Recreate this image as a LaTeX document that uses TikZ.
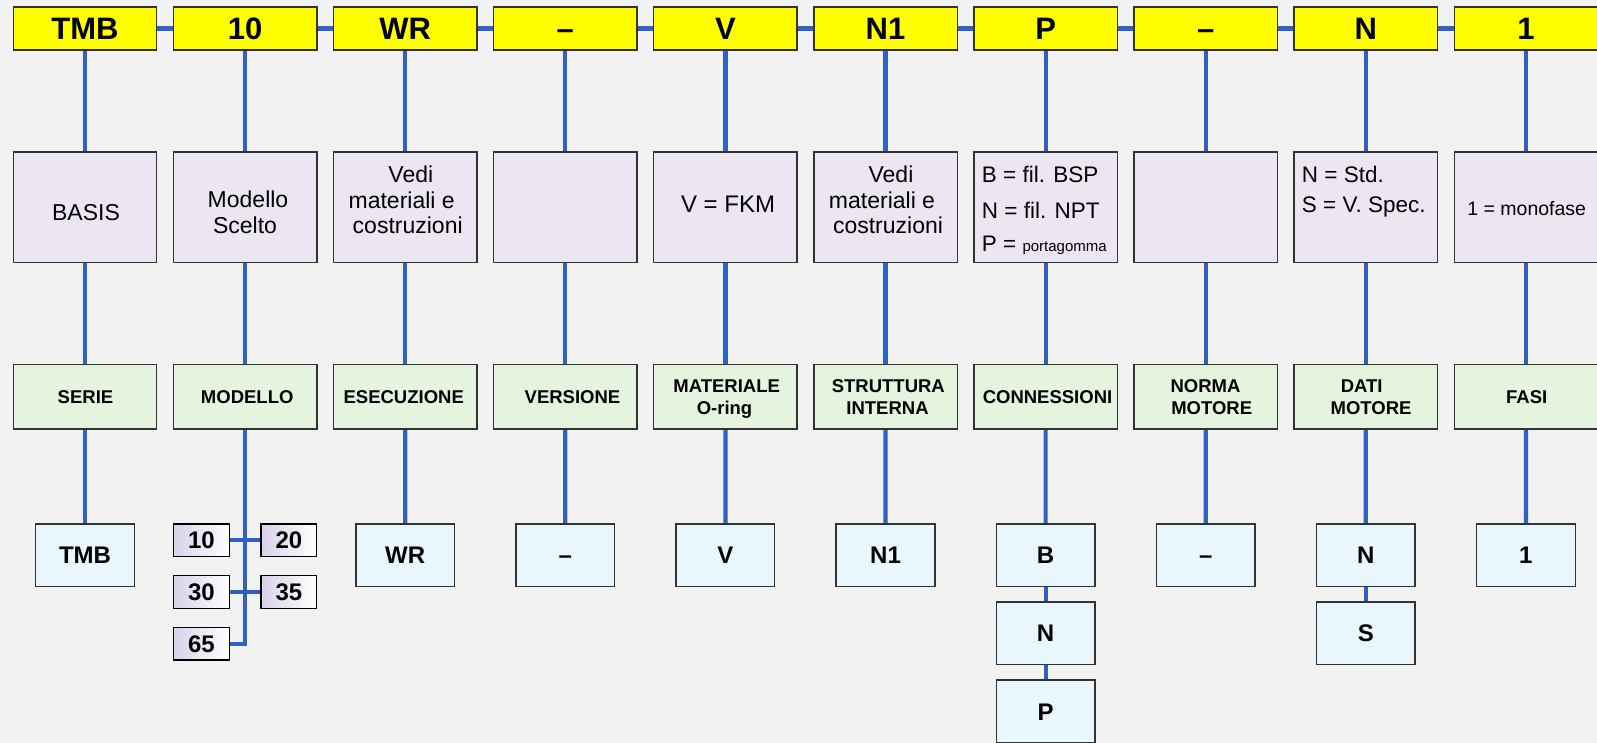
\documentclass[tikz,border=0pt]{standalone}
\usepackage{fontspec}
\setmainfont{Liberation Sans}
\usetikzlibrary{backgrounds}
\definecolor{bgc}{HTML}{F2F2F2}
\definecolor{linkblue}{HTML}{3060C4}
\definecolor{topyel}{HTML}{FFFF00}
\definecolor{midlav}{HTML}{ECE6F2}
\definecolor{labgreen}{HTML}{E4F4DE}
\definecolor{botblue}{HTML}{EAF6FD}
\definecolor{smlav}{HTML}{D8D2EA}
\definecolor{edgec}{HTML}{333333}
\begin{document}
\begin{tikzpicture}[x=1pt,y=-1pt,
 box/.style={draw=edgec, line width=1.4pt, inner sep=0pt, minimum width=143.4pt},
 topbox/.style={box, fill=topyel, minimum height=43pt, text height=22.2pt, text depth=0pt, font=\fontsize{31}{36}\selectfont\bfseries},
 midbox/.style={box, fill=midlav, minimum height=110.7pt},
 labbox/.style={box, fill=labgreen, minimum height=64.3pt},
 botbox/.style={draw=edgec, line width=1.4pt, inner sep=0pt, fill=botblue, minimum width=98.7pt, minimum height=62.7pt, text height=17.2pt, text depth=0pt, font=\fontsize{24}{28}\selectfont\bfseries},
 smbox/.style={draw=black, line width=1.4pt, inner sep=0pt, left color=smlav, right color=white, minimum width=55.6pt, minimum height=32.7pt, text height=17.2pt, text depth=0pt, font=\fontsize{24}{28}\selectfont\bfseries},
 link/.style={draw=linkblue, line width=4.2pt},
 midtxt/.style={inner sep=0pt, anchor=base, font=\fontsize{23}{27}\selectfont},
 midltxt/.style={inner sep=0pt, anchor=base west, font=\fontsize{22.5}{27}\selectfont},
 labtxt/.style={inner sep=0pt, anchor=base, font=\fontsize{18.5}{22}\selectfont\bfseries},
]
\useasboundingbox (0,0) rectangle (1597,743);
\begin{scope}[on background layer]
\fill[bgc] (0,0) rectangle (1597,743);
\end{scope}

% top, middle and label rows
\foreach \t [count=\i from 0] in {TMB,10,WR,–,V,N1,P,–,N,1} {
  \node[topbox] (top\i) at (85+160.1*\i, 28.5) {\t};
  \node[midbox] (mid\i) at (85+160.1*\i, 207.3) {};
  \node[labbox] (lab\i) at (85+160.1*\i, 396.8) {};
}

% middle texts
\node[midtxt] (m0) at (86,221) {BASIS};
\node[midtxt] (m1a) at (248,207.2) {Modello};
\node[midtxt] (m1b) at (245,233.9) {Scelto};
\node[midtxt] (m2a) at (410.8,182.2) {Vedi};
\node[midtxt] (m2b) at (401.7,209) {materiali e};
\node[midtxt] (m2c) at (407.7,233.5) {costruzioni};
\node[midtxt, font=\fontsize{24}{28}\selectfont] (m4) at (728,212.4) {V = FKM};
\node[midtxt] (m5a) at (891,182.2) {Vedi};
\node[midtxt] (m5b) at (882,209) {materiali e};
\node[midtxt] (m5c) at (888,233.5) {costruzioni};
\node[midltxt] (m6a) at (981.7,182.75) {B = fil. BSP};
\node[midltxt] (m6b) at (981.7,218.75) {N = fil. NPT};
\node[midltxt] (m6c) at (981.7,251.35) {P = {\fontsize{15}{18}\selectfont portagomma}};
\node[midltxt] (m8a) at (1301.7,183) {N = Std.};
\node[midltxt] (m8b) at (1301.7,213) {S = V. Spec.};
\node[midtxt, font=\fontsize{19.5}{23}\selectfont] (m9) at (1526.7,215.3) {1 = monofase};

% label texts
\node[labtxt] (l0) at (85.5,403.1) {SERIE};
\node[labtxt] (l1) at (247.2,403.1) {MODELLO};
\node[labtxt] (l2) at (403.7,403.1) {ESECUZIONE};
\node[labtxt] (l3) at (572.5,403.1) {VERSIONE};
\node[labtxt] (l4a) at (726.7,392.3) {MATERIALE};
\node[labtxt] (l4b) at (724.5,414.9) {O-ring};
\node[labtxt] (l5a) at (888.3,392.3) {STRUTTURA};
\node[labtxt] (l5b) at (887.5,414.9) {INTERNA};
\node[labtxt] (l6) at (1047.5,403.1) {CONNESSIONI};
\node[labtxt] (l7a) at (1205.5,392.3) {NORMA};
\node[labtxt] (l7b) at (1211.7,414.9) {MOTORE};
\node[labtxt] (l8a) at (1361.7,392.3) {DATI};
\node[labtxt] (l8b) at (1371,414.9) {MOTORE};
\node[labtxt] (l9) at (1526.7,403.1) {FASI};

% bottom row
\node[botbox] (bot0) at (85,555.3) {TMB};
\node[botbox] (bot2) at (405.2,555.3) {WR};
\node[botbox] (bot3) at (565.3,555.3) {–};
\node[botbox] (bot4) at (725.4,555.3) {V};
\node[botbox] (bot5) at (885.5,555.3) {N1};
\node[botbox] (bot6) at (1045.6,555.3) {B};
\node[botbox] (bot6n) at (1045.6,633.3) {N};
\node[botbox] (bot6p) at (1045.6,711.5) {P};
\node[botbox] (bot7) at (1205.7,555.3) {–};
\node[botbox] (bot8) at (1365.8,555.3) {N};
\node[botbox] (bot8s) at (1365.8,633.3) {S};
\node[botbox] (bot9) at (1525.9,555.3) {1};

% model options
\node[smbox] (s10) at (201.5,540.3) {10};
\node[smbox] (s20) at (288.9,540.3) {20};
\node[smbox] (s30) at (201.5,592) {30};
\node[smbox] (s35) at (288.9,592) {35};
\node[smbox] (s65) at (201.5,643.7) {65};
\coordinate (mcorner) at (245.1,643.7);

\begin{scope}[on background layer]
\foreach \i/\j in {0/1,1/2,2/3,3/4,4/5,5/6,6/7,7/8,8/9}
  \draw[link] (top\i) -- (top\j);
\foreach \i in {0,...,9} {
  \draw[link] (top\i) -- (mid\i);
  \draw[link] (mid\i) -- (lab\i);
}
\foreach \i in {0,2,3,4,5,6,7,8,9}
  \draw[link] (lab\i) -- (bot\i);
\draw[link] (bot6) -- (bot6n);
\draw[link] (bot6n) -- (bot6p);
\draw[link] (bot8) -- (bot8s);
\draw[link] (lab1.south) -- (mcorner) -- (s65.east);
\draw[link] (s10) -- (s20);
\draw[link] (s30) -- (s35);
\end{scope}
\end{tikzpicture}
\end{document}
